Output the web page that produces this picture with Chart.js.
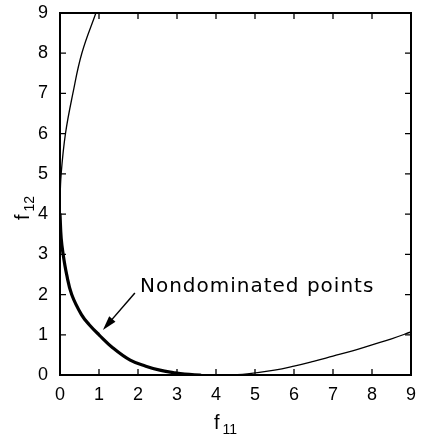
<!DOCTYPE html>
<html>
<head>
<meta charset="utf-8">
<script src="https://cdn.jsdelivr.net/npm/chart.js@4.4.1/dist/chart.umd.min.js"></script>
<style>
  html, body { margin: 0; padding: 0; background: #fff; }
  #wrap { width: 421px; height: 437px; }
</style>
</head>
<body>
<div id="wrap"><canvas id="chart"></canvas></div>
<script>
// tick values on both axes
var tickValues = [0, 1, 2, 3, 4, 5, 6, 7, 8, 9];

// upper branch of the objective curve (thin)
var upperX = [0.92, 0.56, 0.33, 0.14, 0.03, 0.0, 0.0];
var upperY = [9.0, 8.0, 7.0, 6.0, 5.0, 4.3, 4.0];

// nondominated part (thick)
var frontX = [0.0, 0.03, 0.08, 0.17, 0.3, 0.55, 0.75, 1.0, 1.35, 1.8, 2.2, 2.56, 2.9, 3.2, 3.6];
var frontY = [4.0, 3.4, 3.0, 2.5, 2.0, 1.5, 1.25, 1.0, 0.68, 0.37, 0.22, 0.12, 0.06, 0.02, 0.0];

// right branch along the bottom (thin)
var lowerX = [3.6, 4.2, 4.8, 5.5, 6.0, 6.5, 7.0, 7.5, 8.0, 8.5, 9.0];
var lowerY = [0.0, 0.0, 0.03, 0.12, 0.22, 0.34, 0.47, 0.6, 0.75, 0.9, 1.07];

// label and arrow, in data units
var noteText = 'Nondominated points';
var noteAt = [2.05, 2.19];
var arrowTail = [1.92, 2.04];
var arrowHead = [1.1, 1.12];

function toPoints(xs, ys) {
  return xs.map(function (x, i) { return { x: x, y: ys[i] }; });
}

var FONT = '"Liberation Sans", Arial, sans-serif';
var NOTE_FONT = '"DejaVu Sans", sans-serif';

// "f" with a lowered, smaller index
function drawSubscripted(ctx, base, sub) {
  ctx.font = '20px ' + FONT;
  ctx.fillText(base, 0, 0);
  var w = ctx.measureText(base).width;
  ctx.font = '14px ' + FONT;
  ctx.fillText(sub, w + 3, 5);
}

var frameAndNote = {
  id: 'frameAndNote',
  afterDraw: function (chart) {
    var ctx = chart.ctx,
      area = chart.chartArea,
      xs = chart.scales.x,
      ys = chart.scales.y,
      tick = 6;

    ctx.save();
    ctx.strokeStyle = '#000';
    ctx.fillStyle = '#000';
    ctx.lineWidth = 2;
    ctx.strokeRect(area.left, area.top, area.right - area.left, area.bottom - area.top);

    // inward ticks on all four sides
    ctx.lineWidth = 1.3;
    ctx.beginPath();
    tickValues.forEach(function (v) {
      var px = xs.getPixelForValue(v),
        py = ys.getPixelForValue(v);
      ctx.moveTo(px, area.bottom); ctx.lineTo(px, area.bottom - tick);
      ctx.moveTo(px, area.top); ctx.lineTo(px, area.top + tick);
      ctx.moveTo(area.left, py); ctx.lineTo(area.left + tick, py);
      ctx.moveTo(area.right, py); ctx.lineTo(area.right - tick, py);
    });
    ctx.stroke();

    // annotation arrow
    var tx = xs.getPixelForValue(arrowTail[0]), ty = ys.getPixelForValue(arrowTail[1]),
      hx = xs.getPixelForValue(arrowHead[0]), hy = ys.getPixelForValue(arrowHead[1]),
      ang = Math.atan2(hy - ty, hx - tx),
      len = 15, half = 0.28;
    ctx.lineWidth = 1.5;
    ctx.beginPath();
    ctx.moveTo(tx, ty);
    ctx.lineTo(hx - Math.cos(ang) * len * 0.8, hy - Math.sin(ang) * len * 0.8);
    ctx.stroke();
    ctx.beginPath();
    ctx.moveTo(hx, hy);
    ctx.lineTo(hx - len * Math.cos(ang - half), hy - len * Math.sin(ang - half));
    ctx.lineTo(hx - len * Math.cos(ang + half), hy - len * Math.sin(ang + half));
    ctx.closePath();
    ctx.fill();

    ctx.font = '20px ' + NOTE_FONT;
    ctx.letterSpacing = '1px';
    ctx.textAlign = 'left';
    ctx.textBaseline = 'middle';
    ctx.fillText(noteText, xs.getPixelForValue(noteAt[0]), ys.getPixelForValue(noteAt[1]));
    ctx.letterSpacing = '0px';

    // axis titles
    ctx.textBaseline = 'alphabetic';
    ctx.save();
    ctx.translate(214, 429);
    drawSubscripted(ctx, 'f', '11');
    ctx.restore();

    ctx.save();
    ctx.translate(29, 220);
    ctx.rotate(-Math.PI / 2);
    drawSubscripted(ctx, 'f', '12');
    ctx.restore();

    ctx.restore();
  }
};

var lineSet = function (xs, ys, width) {
  return {
    data: toPoints(xs, ys),
    showLine: true,
    borderColor: '#000',
    borderWidth: width,
    borderCapStyle: 'round',
    pointRadius: 0,
    tension: 0.4,
    fill: false
  };
};

new Chart(document.getElementById('chart'), {
  type: 'scatter',
  data: {
    datasets: [
      lineSet(upperX, upperY, 1.3),
      lineSet(lowerX, lowerY, 1.3),
      lineSet(frontX, frontY, 3.2)
    ]
  },
  options: {
    responsive: true,
    maintainAspectRatio: false,
    animation: false,
    layout: { padding: { top: 13, right: 10, left: 0, bottom: 0 } },
    plugins: { legend: { display: false }, tooltip: { enabled: false } },
    scales: {
      x: {
        type: 'linear', min: 0, max: 9,
        afterFit: function (s) { s.height = 62; s.paddingLeft = 0; s.paddingRight = 0; },
        afterBuildTicks: function (s) { s.ticks = tickValues.map(function (v) { return { value: v }; }); },
        grid: { display: false, drawTicks: false },
        border: { display: false },
        ticks: { color: '#000', padding: 9, font: { family: FONT, size: 18 }, maxRotation: 0 }
      },
      y: {
        type: 'linear', min: 0, max: 9,
        afterFit: function (s) { s.width = 60; s.paddingTop = 0; s.paddingBottom = 0; },
        afterBuildTicks: function (s) { s.ticks = tickValues.map(function (v) { return { value: v }; }); },
        grid: { display: false, drawTicks: false },
        border: { display: false },
        ticks: { color: '#000', padding: 12, font: { family: FONT, size: 18 } }
      }
    }
  },
  plugins: [frameAndNote]
});
</script>
</body>
</html>
